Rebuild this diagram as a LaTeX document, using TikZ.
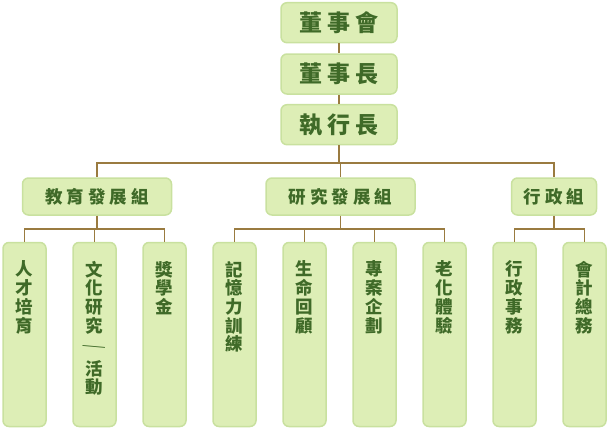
\documentclass[tikz,border=0pt]{standalone}
\usepackage{graphicx}
\usepackage{fontspec}
\newfontfamily\cjk{Noto Sans CJK TC}
\usetikzlibrary{calc}
\definecolor{boxfill}{HTML}{DDEEB6}
\definecolor{boxdraw}{HTML}{C9E19F}
\definecolor{txt}{HTML}{3F6A28}
\definecolor{wire}{HTML}{9A7B40}
\newcommand\chsp[1]{\hspace{#1pt}}
\begin{document}
\begin{tikzpicture}[x=1pt,y=-1pt,
  box/.style={draw=boxdraw,line width=1.5pt,fill=boxfill,rounded corners=6pt,inner sep=0pt},
  topbox/.style={box,minimum width=116pt,minimum height=40pt,text=txt,font=\cjk\bfseries\fontsize{23}{26}\selectfont},
  grpbox/.style={box,minimum height=37pt,text=txt,font=\cjk\bfseries\fontsize{17.5}{20}\selectfont},
  leafbox/.style={box,minimum width=43pt,minimum height=184pt},
  leaftxt/.style={anchor=north,inner sep=0pt,align=center,text=txt,font=\cjk\bfseries\fontsize{17.5}{18.7}\selectfont},
  wire/.style={draw=wire,line width=1.6pt}]
\useasboundingbox (0,0) rectangle (610,440);
% top chain
\node[topbox] (board) at (339,22.7) {董\chsp{5}事\chsp{5}會};
\node[topbox] (chair) at (339,74) {董\chsp{5}事\chsp{5}長};
\node[topbox] (ceo) at (339,124.7) {執\chsp{5}行\chsp{5}長};
% groups
\node[grpbox,minimum width=149pt] (g1) at (97,196.5) {教\chsp{4}育\chsp{4}發\chsp{4}展\chsp{4}組};
\node[grpbox,minimum width=149pt] (g2) at (340.5,196.5) {研\chsp{4}究\chsp{4}發\chsp{4}展\chsp{4}組};
\node[grpbox,minimum width=85pt] (g3) at (554,196.5) {行\chsp{4}政\chsp{4}組};
% leaves
\foreach \n/\x in {c1/24.5,c2/94.5,c3/164.5,c4/234.5,c5/304.5,c6/374.5,c7/444.5,c8/514.5,c9/584.5}
  \node[leafbox] (\n) at (\x,334.5) {};
\node[leaftxt] (t1) at ($(c1.north)+(0,19)$) {人\\才\\培\\育};
\node[leaftxt] (t2) at ($(c2.north)+(0,19)$) {文\\化\\研\\究\\\rotatebox[origin=c]{-50}{／}\\活\\動};
\node[leaftxt] (t3) at ($(c3.north)+(0,19)$) {獎\\學\\金};
\node[leaftxt] (t4) at ($(c4.north)+(0,19)$) {記\\憶\\力\\訓\\練};
\node[leaftxt] (t5) at ($(c5.north)+(0,19)$) {生\\命\\回\\顧};
\node[leaftxt] (t6) at ($(c6.north)+(0,19)$) {專\\案\\企\\劃};
\node[leaftxt] (t7) at ($(c7.north)+(0,19)$) {老\\化\\體\\驗};
\node[leaftxt] (t8) at ($(c8.north)+(0,19)$) {行\\政\\事\\務};
\node[leaftxt] (t9) at ($(c9.north)+(0,19)$) {會\\計\\總\\務};
% connectors
\draw[wire] (board.south) -- (chair.north);
\draw[wire] (chair.south) -- (ceo.north);
\foreach \g in {g1,g2,g3}
  \draw[wire] (ceo.south) |- ($(\g.north)+(0,-14)$) -- (\g.north);
\foreach \c in {c1,c2,c3}
  \draw[wire] (g1.south) |- ($(\c.north)+(0,-12.5)$) -- (\c.north);
\foreach \c in {c4,c5,c6,c7}
  \draw[wire] (g2.south) |- ($(\c.north)+(0,-12.5)$) -- (\c.north);
\foreach \c in {c8,c9}
  \draw[wire] (g3.south) |- ($(\c.north)+(0,-12.5)$) -- (\c.north);
\end{tikzpicture}
\end{document}
